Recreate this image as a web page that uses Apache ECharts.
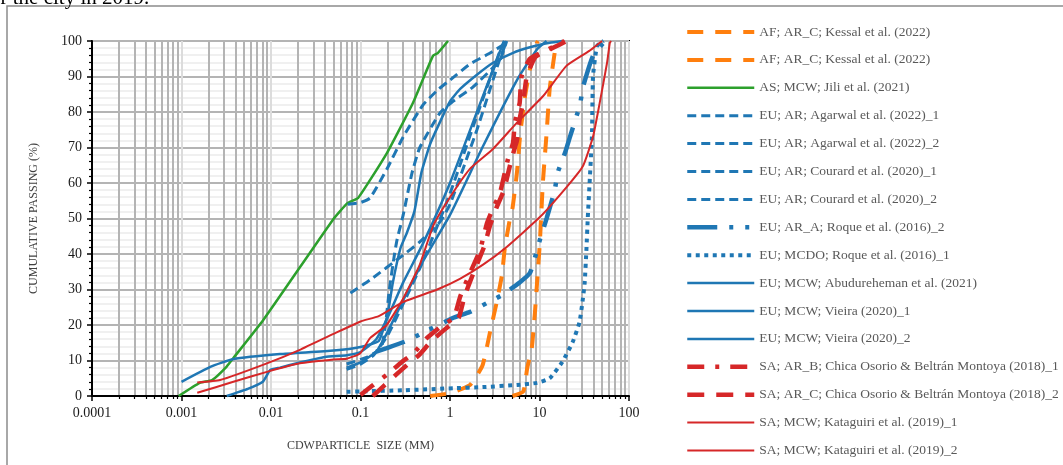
<!DOCTYPE html>
<html><head><meta charset="utf-8">
<script src="https://cdn.jsdelivr.net/npm/echarts@6/dist/echarts.min.js"></script>
<style>html,body{margin:0;padding:0;background:#fff}#c{width:1063px;height:465px}</style>
</head><body><div id="c"></div>
<script>
// ---- tick values ----
const xTicks = [0.0001, 0.001, 0.01, 0.1, 1, 10, 100];
const yTicks = [0, 10, 20, 30, 40, 50, 60, 70, 80, 90, 100];

// ---- series names (legend order) ----
const names = [
  'AF; AR_C; Kessal et al. (2022)',
  'AF; AR_C; Kessal et al. (2022) ',
  'AS; MCW; Jili et al. (2021)',
  'EU; AR; Agarwal et al. (2022)_1',
  'EU; AR; Agarwal et al. (2022)_2',
  'EU; AR; Courard et al. (2020)_1',
  'EU; AR; Courard et al. (2020)_2',
  'EU; AR_A; Roque et al. (2016)_2',
  'EU; MCDO; Roque et al. (2016)_1',
  'EU; MCW; Abudureheman et al. (2021)',
  'EU; MCW; Vieira (2020)_1',
  'EU; MCW; Vieira (2020)_2',
  'SA; AR_B; Chica Osorio & Beltrán Montoya (2018)_1',
  'SA; AR_C; Chica Osorio & Beltrán Montoya (2018)_2',
  'SA; MCW; Kataguiri et al. (2019)_1',
  'SA; MCW; Kataguiri et al. (2019)_2'
];

// ---- data: [particle size (mm), cumulative passing (%)] ----
const kessal1 = [[0.6,0],[1.0,0.8],[1.67,3.1],[2.3,8.5],[2.8,18],[3.3,26],[3.8,34],[4.1,41.7],[4.6,49],[5.0,53],[5.6,63],[6.1,74],[6.9,84.5],[7.8,92],[9.3,99.4],[9.6,100]];
const kessal2 = [[5,0],[6.6,1.3],[7.3,7.9],[8.2,13.5],[8.9,23.7],[9.4,32],[10.1,43.4],[10.9,60],[12,74],[13,86.5],[14.6,95.8],[15.4,99.4],[15.6,100]];
const jili = [[0.00093,0],[0.0016,3.7],[0.0022,4.5],[0.0032,8.3],[0.0038,10.7],[0.0082,21.4],[0.0497,49.8],[0.072,54.4],[0.094,55.8],[0.198,68.5],[0.386,82.6],[0.645,95.8],[0.73,96.6],[0.95,100]];
const agarwal1 = [[0.072,54],[0.098,54.4],[0.128,55.8],[0.198,64],[0.3,73],[0.5,82],[0.75,86.5],[1,89],[1.67,93.5],[2.8,96.6],[4.2,99.4],[4.4,100]];
const agarwal2 = [[0.077,29],[0.128,32.7],[0.3,39.7],[0.46,43.4],[0.77,49],[1,54],[2,75],[3.5,94],[4.3,100]];
const courard1 = [[0.07,9],[0.12,11],[0.17,13.5],[0.19,20],[0.21,30],[0.24,40],[0.256,44],[0.3,51],[0.376,62.8],[0.46,70],[0.77,79.7],[1.08,83],[1.8,87],[3.6,94.6],[4.3,100]];
const courard2 = [[0.07,7.5],[0.1,9],[0.14,11.5],[0.2,17],[0.3,26],[0.5,38],[1,57],[2,79],[3.6,97],[4.1,100]];
const roqueA = [[0.15,12.5],[0.196,13.5],[0.328,15.5],[0.48,17.6],[1.06,21.9],[1.67,23.7],[2.59,26.2],[3.8,28.4],[6,32],[7.8,34.6],[8.9,39],[10.1,44],[12,50],[14.8,58],[16,63],[19.3,68.5],[21.9,73],[28.3,82],[30.6,87],[39.6,95.8],[54,100]];
const roqueM = [[0.07,1.2],[0.1,1.3],[0.3,1.6],[1.1,2.2],[2.3,2.5],[5.6,3.1],[9.4,3.7],[13,5],[18,9.6],[23.5,15.2],[28,20.8],[30.6,27.6],[32,32],[33.5,41.7],[34.6,50],[38.5,73],[39.6,90],[44,98.6],[52,100]];
const abud = [[0.001,4],[0.0021,8.2],[0.0038,10.4],[0.0126,11.8],[0.05,12.8],[0.1,13.8],[0.16,15.5],[0.2,22.8],[0.23,32],[0.28,41.7],[0.33,46],[0.4,52],[0.48,63],[0.6,71],[0.8,78],[1,83],[1.3,86.5],[2,90.5],[3,93.8],[5,96.6],[8,98.3],[13,99.5],[18,100]];
const vieira1 = [[0.0032,0],[0.0055,2],[0.0081,4],[0.0098,7.3],[0.0126,8],[0.02,9.3],[0.04,11],[0.07,11.5],[0.1,12.4],[0.15,16],[0.2,22],[0.3,32],[0.5,43],[1,60],[2,80],[4,100]];
const vieira2 = [[0.07,8],[0.1,9.5],[0.15,12.5],[0.2,18],[0.3,27],[0.5,38],[1,51],[2.3,70],[5.6,89],[9.4,97.7],[12,100]];
const chica1 = [[0.1,0.3],[0.137,3],[0.197,6],[0.29,9.6],[0.39,12],[0.55,16.3],[0.83,20],[1.1,22],[1.3,28],[1.67,34.6],[2.16,41],[2.59,48.7],[3.0,52.7],[3.6,57],[4.45,66.8],[5.06,71.3],[5.3,77],[6.0,82.5],[6.3,90],[7.8,95],[12.7,97.7],[19,100]];
const chica2 = [[0.137,0],[0.185,3],[0.25,6],[0.33,8.7],[0.45,11.5],[0.62,15.5],[0.95,19.5],[1.25,22],[1.45,28],[1.85,35],[2.4,42],[2.8,48],[3.3,53],[4.0,58],[4.9,67],[5.6,72],[6.0,78],[6.6,83],[7.2,90],[9,95.5],[14,98],[20,100]];
const kata1 = [[0.0015,3.8],[0.0027,4.5],[0.009,9.2],[0.021,13],[0.05,17.5],[0.1,21],[0.16,22.5],[0.3,26.5],[0.72,30],[1.29,33],[2.34,37],[4.3,42],[10.1,50.4],[20.3,59],[30.6,64.8],[39.6,73],[47,82.5],[56.8,93.8],[61,99.4],[63,100]];
const kata2 = [[0.0015,0.9],[0.0038,4],[0.009,6.8],[0.021,9.2],[0.05,10.3],[0.07,10.5],[0.099,12],[0.128,16.3],[0.196,20],[0.3,27.5],[0.46,37],[0.65,48],[1,56],[1.67,64],[3,69.5],[5.6,77],[11,84.5],[20,93],[36,97.2],[47,99.5],[50,100]];

const seriesData = [kessal1, kessal2, jili, agarwal1, agarwal2, courard1, courard2, roqueA, roqueM, abud, vieira1, vieira2, chica1, chica2, kata1, kata2];

// ---- styles ----
const ORANGE = '#ff7f0e', GREEN = '#2ca02c', BLUE = '#1f77b4', RED = '#d62728';
const styles = [
  {color: ORANGE, width: 4, type: [16, 12]},
  {color: ORANGE, width: 4, type: [16, 12]},
  {color: GREEN, width: 2.5, type: 'solid'},
  {color: BLUE, width: 3, type: [9, 5]},
  {color: BLUE, width: 3, type: [9, 5]},
  {color: BLUE, width: 3, type: [9, 5]},
  {color: BLUE, width: 3, type: [9, 5]},
  {color: BLUE, width: 4.5, type: [30, 12, 4, 12, 4, 12]},
  {color: BLUE, width: 4, type: [4, 4.5]},
  {color: BLUE, width: 2.5, type: 'solid'},
  {color: BLUE, width: 2.5, type: 'solid'},
  {color: BLUE, width: 2.5, type: 'solid'},
  {color: RED, width: 4.5, type: [17, 11, 4, 11]},
  {color: RED, width: 4.5, type: [17, 12]},
  {color: RED, width: 2, type: 'solid'},
  {color: RED, width: 2, type: 'solid'}
];

const FONT = 'Liberation Serif';
const chart = echarts.init(document.getElementById('c'), null, {renderer: 'canvas'});

const series = seriesData.map((d, i) => ({
  name: names[i],
  type: 'line',
  data: d,
  smooth: 0.15,
  symbol: 'none',
  showSymbol: false,
  clip: false,
  animation: false,
  color: styles[i].color,
  lineStyle: {color: styles[i].color, width: styles[i].width, type: styles[i].type}
}));

chart.setOption({
  animation: false,
  backgroundColor: '#fff',
  graphic: [
    {type: 'rect', silent: true, z: -10, shape: {x: 7, y: 6, width: 1200, height: 600},
     style: {fill: 'none', stroke: '#8c8c8c', lineWidth: 1.5}},
    {type: 'text', left: -17, top: -12, silent: true,
     style: {text: 'for the city in 2019.', font: '21px "Liberation Serif"', fill: '#000'}}
  ],
  grid: {left: 92, right: 434, top: 41, bottom: 69, show: true, borderColor: '#000', borderWidth: 2, backgroundColor: 'transparent'},
  legend: {
    orient: 'vertical', left: 685, top: 25, padding: 0,
    itemWidth: 67, itemHeight: 14, itemGap: 13.9,
    selectedMode: false,
    itemStyle: {opacity: 0},
    textStyle: {fontFamily: FONT, fontSize: 13.5, lineHeight: 14, color: '#595959', padding: [0, 0, 0, 0]},
    data: names.map((n, i) => ({name: n, lineStyle: {width: styles[i].width}}))
  },
  xAxis: {
    type: 'log', logBase: 10, min: xTicks[0], max: xTicks[xTicks.length - 1],
    name: 'CDWPARTICLE  SIZE (MM)', nameLocation: 'middle', nameGap: 44,
    nameTextStyle: {fontFamily: FONT, fontSize: 12, color: '#404040'},
    axisLine: {show: true, onZero: false, lineStyle: {color: '#000', width: 2}},
    axisTick: {show: true, inside: false, length: 5, lineStyle: {color: '#000', width: 1.5}},
    minorTick: {show: true, splitNumber: 9, length: 3, lineStyle: {color: '#000', width: 1.2}},
    splitLine: {show: true, lineStyle: {color: '#dcdcdc', width: 2}},
    minorSplitLine: {show: true, lineStyle: {color: '#b4b4b4', width: 2}},
    axisLabel: {fontFamily: FONT, fontSize: 14, color: '#1a1a1a', margin: 10,
      formatter: v => { const t = xTicks.find(x => Math.abs(Math.log10(x) - Math.log10(v)) < 1e-6); return t === undefined ? '' : String(t); }}
  },
  yAxis: {
    type: 'value', min: yTicks[0], max: yTicks[yTicks.length - 1], interval: 10,
    name: 'CUMULATIVE PASSING (%)', nameLocation: 'middle', nameGap: 52, nameRotate: 90,
    nameTextStyle: {fontFamily: FONT, fontSize: 12, color: '#404040'},
    axisLine: {show: true, lineStyle: {color: '#000', width: 2}},
    axisTick: {show: true, inside: false, length: 5, lineStyle: {color: '#000', width: 1.5}},
    minorTick: {show: true, splitNumber: 5, length: 3, lineStyle: {color: '#000', width: 1.2}},
    splitLine: {show: true, lineStyle: {color: '#b4b4b4', width: 2}},
    minorSplitLine: {show: true, lineStyle: {color: '#ebebeb', width: 1.5}},
    axisLabel: {fontFamily: FONT, fontSize: 14, color: '#1a1a1a', margin: 10}
  },
  series: series
});
</script></body></html>
